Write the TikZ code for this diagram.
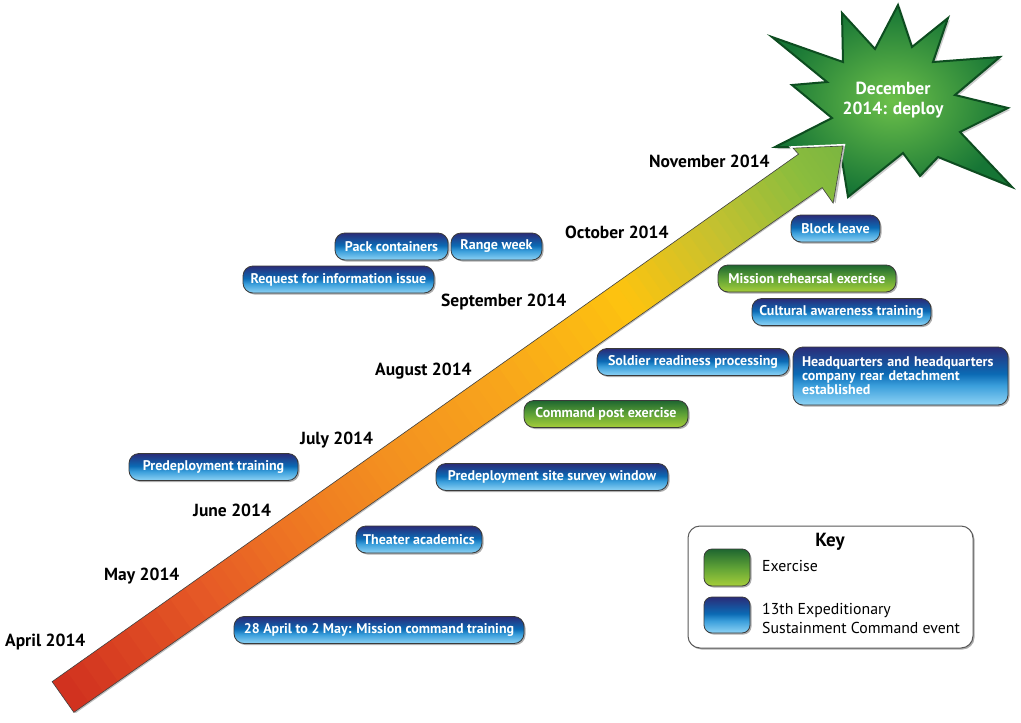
\documentclass[tikz,border=0pt]{standalone}
\usepackage{fontspec}
\setmainfont{PT Sans}
\usetikzlibrary{shadows}
\definecolor{blT}{HTML}{2A2C78}
\definecolor{blM}{HTML}{0B6AB4}
\definecolor{blM2}{HTML}{3A9EDB}
\definecolor{blB}{HTML}{8ED3F5}
\definecolor{grT}{HTML}{1E6630}
\definecolor{grM}{HTML}{5FA236}
\definecolor{grB}{HTML}{A6CE3A}
\definecolor{ar0}{HTML}{D0301F}
\definecolor{ar1}{HTML}{E65A26}
\definecolor{ar2}{HTML}{EF7A22}
\definecolor{ar3}{HTML}{F39020}
\definecolor{ar4}{HTML}{F8A41C}
\definecolor{ar5}{HTML}{FDC30F}
\definecolor{ar6}{HTML}{C6C12F}
\definecolor{ar7}{HTML}{8CBD3D}
\definecolor{ar8}{HTML}{7AB541}
\definecolor{boxline}{HTML}{3A3A3A}
\definecolor{starin}{HTML}{6CC04A}
\definecolor{starout}{HTML}{167535}
\definecolor{starline}{HTML}{0D4D20}
\pgfdeclareverticalshading{bluegrad}{100bp}{color(0bp)=(blB); color(25bp)=(blB); color(42bp)=(blM2); color(52bp)=(blM); color(75bp)=(blT); color(100bp)=(blT)}
\pgfdeclareverticalshading{greengrad}{100bp}{color(0bp)=(grB); color(25bp)=(grB); color(50bp)=(grM); color(75bp)=(grT); color(100bp)=(grT)}
\begin{document}
\begin{tikzpicture}[x=1pt,y=-1pt,
  shad/.style={drop shadow={shadow xshift=1.5pt, shadow yshift=-1.5pt, opacity=0.45, fill=black!70}},
  evt/.style={shad, rounded corners=10pt, draw=boxline, line width=0.8pt, shade, shading=bluegrad,
    minimum height=27pt, text=white, font=\bfseries\fontsize{14}{14}\selectfont, inner sep=0pt},
  exer/.style={evt, shading=greengrad},
  month/.style={anchor=west, font=\bfseries\fontsize{17.5}{19}\selectfont, inner sep=0pt},
  swatch/.style={shad, rounded corners=8pt, draw=boxline, line width=0.8pt, shade, minimum width=46pt, inner sep=0pt}]
\useasboundingbox (0,0) rectangle (1021,723);
\fill[white] (0,0) rectangle (1021,723);

% starburst
\draw[drop shadow={shadow xshift=2pt, shadow yshift=-2pt, opacity=0.4}, draw=starline, line width=2pt, line join=miter,
  inner color=starin, outer color=starout]
  (898,5) -- (912,47) -- (948,18) -- (933,62) -- (1000,57) -- (955,95) -- (1008,108) -- (960,132)
  -- (1012,187) -- (938,157) -- (920,176) -- (903,153) -- (848,197)
  -- (840,148) -- (775,147) -- (832,118) -- (792,85) -- (827,82) -- (772,37) -- (843,62)
  -- (842,13) -- (875,49) -- cycle;
\node[text=white, align=center, font=\bfseries\fontsize{17.5}{20}\selectfont] (deploy) at (893,100) {December\\2014: deploy};

% arrow
\begin{scope}[shift={(63,697)}, rotate=35.24, y=1pt]
  \draw[white, line width=4pt, line join=miter] (0,18.8) -- (914,19) -- (913,27) -- (955,0) -- (914,-41) -- (914,-22) -- (0,-18.8) -- cycle;
  \fill[black, opacity=0.25] (1.5,-20.5) -- (916,-23.5) -- (916,-42.5) -- (956.5,-1.5) -- (955,0) -- (914,-41) -- (914,-22) -- (0,-18.8) -- cycle;
  \begin{scope}
    \clip (0,18.8) -- (914,19) -- (913,27) -- (955,0) -- (914,-41) -- (914,-22) -- (0,-18.8) -- cycle;
    \foreach \ua/\ub/\ca/\cb in {0/180/ar0/ar1, 180/300/ar1/ar2, 300/400/ar2/ar3, 400/530/ar3/ar4, 530/690/ar4/ar5, 690/800/ar5/ar6, 800/900/ar6/ar7, 900/960/ar7/ar8}{
      \foreach \k in {0,...,9}{
        \pgfmathsetmacro{\sa}{\ua+\k*(\ub-\ua)/10}
        \pgfmathsetmacro{\sb}{\ua+(\k+1)*(\ub-\ua)/10+0.8}
        \pgfmathsetmacro{\pp}{(\k+0.5)*10}
        \fill[\cb!\pp!\ca] (\sa,-45) rectangle (\sb,45);
      }
    }
  \end{scope}
  \draw[black!75, line width=0.6pt, line join=miter]
    (0,18.8) -- (914,19) -- (913,27) -- (955,0) -- (914,-41) -- (914,-22) -- (0,-18.8) -- cycle;
\end{scope}

% month labels
\node[month] (apr) at (5,642) {April 2014};
\node[month] (may) at (104,576) {May 2014};
\node[month] (jun) at (193,510) {June 2014};
\node[month] (jul) at (300,440) {July 2014};
\node[month] (aug) at (375,371) {August 2014};
\node[month] (sep) at (441,302) {September 2014};
\node[month] (oct) at (565,232) {October 2014};
\node[month] (nov) at (649,161) {November 2014};

% events
\node[evt, minimum width=113pt] (pack) at (391.5,246.5) {Pack containers};
\node[evt, minimum width=91pt] (range) at (496.5,246.5) {Range week};
\node[evt, minimum width=191pt] (rfi) at (338.5,279.5) {Request for information issue};
\node[evt, minimum width=169pt] (pdt) at (213.5,467) {Predeployment training};
\node[exer, minimum width=164pt] (cpx) at (606,414) {Command post exercise};
\node[evt, minimum width=232pt] (pssw) at (552,477) {Predeployment site survey window};
\node[evt, minimum width=126pt] (theater) at (419,539.5) {Theater academics};
\node[evt, minimum width=290pt] (mct) at (379,630) {28 April to 2 May: Mission command training};
\node[evt, minimum width=192pt] (srp) at (693,362) {Soldier readiness processing};
\node[evt, minimum width=215pt, minimum height=58pt, text width=197pt, align=left] (hq) at (900.5,376)
  {Headquarters and headquarters\\company rear detachment\\established};
\node[evt, minimum width=89pt] (block) at (835.5,228.5) {Block leave};
\node[exer, minimum width=178pt] (mre) at (807,278.5) {Mission rehearsal exercise};
\node[evt, minimum width=179pt] (cat) at (841.5,312) {Cultural awareness training};

% key
\node[shad, draw=black!65, line width=1pt, fill=white, rounded corners=12pt, minimum width=285pt, minimum height=122pt, inner sep=0pt] (key) at (830.5,587) {};
\node[font=\bfseries\fontsize{19}{21}\selectfont, inner sep=0pt] (keytitle) at (830,542) {Key};
\node[swatch, shading=greengrad, minimum height=37pt] (swE) at (727,567.5) {};
\node[swatch, shading=bluegrad, minimum height=36pt] (swS) at (727,615) {};
\node[anchor=west, inner sep=0pt, font=\fontsize{15.8}{19}\selectfont] (lblE) at (762,566) {Exercise};
\node[anchor=west, inner sep=0pt, align=left, font=\fontsize{15.8}{19}\selectfont] (lblS) at (762,618.5) {13th Expeditionary\\Sustainment Command event};
\end{tikzpicture}
\end{document}
